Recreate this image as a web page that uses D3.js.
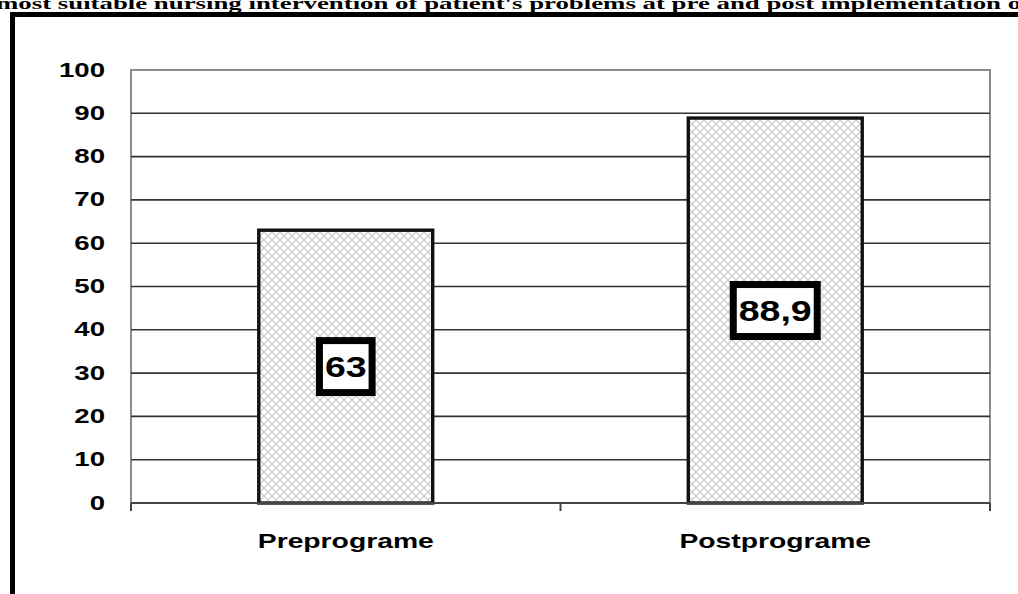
<!DOCTYPE html>
<html>
<head>
<meta charset="utf-8">
<script src="https://cdn.jsdelivr.net/npm/d3@7"></script>
<style>
  body { margin: 0; background: #fff; overflow: hidden; }
  svg { display: block; }
</style>
</head>
<body>
<script>
var categories = ["Preprograme", "Postprograme"];
var values = [63, 88.9];
var valueLabels = ["63", "88,9"];
var yTicks = [0, 10, 20, 30, 40, 50, 60, 70, 80, 90, 100];
var titleText = "most suitable nursing intervention of patient's problems at pre and post implementation of";

function drawChart() {
  var width = 1018;
  var height = 594;
  var stretch = 1.38; // the original text is drawn wide

  var svg = d3.select("body")
    .append("svg")
    .attr("width", width)
    .attr("height", height);

  // crosshatch fill for the bars
  var pattern = svg.append("defs").append("pattern")
    .attr("id", "hatch")
    .attr("patternUnits", "userSpaceOnUse")
    .attr("width", 8)
    .attr("height", 8);
  pattern.append("rect").attr("width", 8).attr("height", 8).attr("fill", "#fff");
  pattern.append("path")
    .attr("d", "M0,0L8,8M8,0L0,8M-1,7L1,9M7,-1L9,1")
    .attr("stroke", "#c4c4c4")
    .attr("stroke-width", 1.1);

  // title, cut at both sides like the source image
  svg.append("text")
    .attr("x", -4)
    .attr("y", 9)
    .attr("textLength", 1034)
    .attr("lengthAdjust", "spacingAndGlyphs")
    .style("font-family", "'Liberation Serif', 'Times New Roman', serif")
    .style("font-weight", "bold")
    .style("font-size", "17px")
    .text(titleText);

  // outer frame
  svg.append("rect")
    .attr("x", 12.5)
    .attr("y", 14.5)
    .attr("width", 1200)
    .attr("height", 800)
    .attr("fill", "none")
    .attr("stroke", "#000")
    .attr("stroke-width", 5);

  var left = 131, right = 990, top = 70, bottom = 503;

  var x = d3.scaleBand().domain(categories).range([left, right]).padding(0);
  var y = d3.scaleLinear().domain([0, 100]).range([bottom, top]);
  var barWidth = x.bandwidth() * 0.405;

  // plot border (left, top, right in grey)
  svg.append("path")
    .attr("d", "M" + left + "," + bottom + "V" + top + "H" + right + "V" + bottom)
    .attr("fill", "none")
    .attr("stroke", "#8c8c8c")
    .attr("stroke-width", 2);

  // grid lines
  svg.append("g")
    .selectAll("line")
    .data(yTicks.filter(function (t) { return t > 0 && t < 100; }))
    .enter()
    .append("line")
      .attr("x1", left)
      .attr("x2", right)
      .attr("y1", function (t) { return y(t); })
      .attr("y2", function (t) { return y(t); })
      .attr("stroke", "#333")
      .attr("stroke-width", 1.6);

  // y axis labels
  var yAxis = svg.append("g")
    .attr("transform", "translate(" + left + ",0)")
    .call(d3.axisLeft(y).tickValues(yTicks).tickSize(0).tickPadding(0));
  yAxis.select(".domain").remove();
  yAxis.selectAll("text")
    .attr("x", -26 / stretch)
    .attr("dy", "0.3em")
    .attr("transform", "scale(" + stretch + ",1)")
    .style("font-family", "'Liberation Sans', Arial, sans-serif")
    .style("font-weight", "bold")
    .style("font-size", "20px")
    .style("fill", "#000");

  // bars
  svg.append("g")
    .selectAll("rect")
    .data(values)
    .enter()
    .append("rect")
      .attr("x", function (d, i) { return x(categories[i]) + x.bandwidth() / 2 - barWidth / 2; })
      .attr("y", function (d) { return y(d); })
      .attr("width", barWidth)
      .attr("height", function (d) { return y(0) - y(d); })
      .attr("fill", "url(#hatch)")
      .attr("stroke", "#111")
      .attr("stroke-width", 3.4);

  // x axis
  var xAxis = svg.append("g")
    .attr("transform", "translate(0," + bottom + ")");
  xAxis.append("line")
    .attr("x1", left).attr("x2", right)
    .attr("stroke", "#444").attr("stroke-width", 2);
  var bounds = [left].concat(categories.map(function (c) { return x(c) + x.bandwidth(); }));
  xAxis.selectAll(".tick")
    .data(bounds)
    .enter()
    .append("line")
      .attr("x1", function (d) { return d; })
      .attr("x2", function (d) { return d; })
      .attr("y1", 0)
      .attr("y2", 8)
      .attr("stroke", "#444")
      .attr("stroke-width", 2);
  xAxis.selectAll(".cat")
    .data(categories)
    .enter()
    .append("text")
      .attr("transform", function (c) {
        return "translate(" + (x(c) + x.bandwidth() / 2) + ",45) scale(" + stretch + ",1)";
      })
      .attr("text-anchor", "middle")
      .style("font-family", "'Liberation Sans', Arial, sans-serif")
      .style("font-weight", "bold")
      .style("font-size", "20.5px")
      .text(function (c) { return c; });

  // value labels in framed boxes
  var labels = svg.append("g")
    .selectAll("g")
    .data(values)
    .enter()
    .append("g")
      .attr("transform", function (d, i) {
        return "translate(" + (x(categories[i]) + x.bandwidth() / 2) + "," + y(d / 2) + ")";
      });

  labels.append("rect")
    .attr("fill", "#fff")
    .attr("stroke", "#000")
    .attr("stroke-width", 7);

  labels.append("text")
    .attr("text-anchor", "middle")
    .attr("dy", "0.36em")
    .attr("transform", "scale(1.25,1)")
    .style("font-family", "'Liberation Sans', Arial, sans-serif")
    .style("font-weight", "bold")
    .style("font-size", "30px")
    .text(function (d, i) { return valueLabels[i]; });

  labels.each(function () {
    var g = d3.select(this);
    var bb = g.select("text").node().getBBox();
    var w = bb.width * 1.25 + 18 - 7;
    var h = 59 - 7;
    g.select("rect")
      .attr("x", -w / 2)
      .attr("y", -h / 2)
      .attr("width", w)
      .attr("height", h);
  });
}

drawChart();
</script>
</body>
</html>
